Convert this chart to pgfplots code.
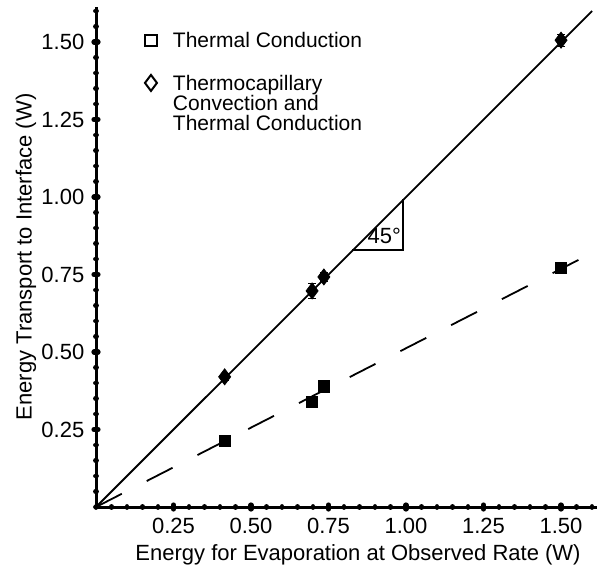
\documentclass[border=0pt]{standalone}
\usepackage{fontspec}
\setmainfont{Liberation Sans}
\usepackage{pgfplots}
\pgfplotsset{compat=1.18}
\begin{document}
\fontsize{11}{13}\selectfont
\begin{tikzpicture}
\useasboundingbox (-48pt,-30pt) rectangle (250.5pt,253.5pt);
\begin{axis}[
  scale only axis,
  width=250.5pt, height=250pt,
  xmin=0, xmax=1.616, ymin=0, ymax=1.613,
  axis x line=bottom, axis y line=left,
  axis line style={-, line width=1.5pt},
  xtick={0.25,0.5,...,1.5}, ytick={0.25,0.5,...,1.5},
  minor xtick={0,0.05,...,1.61}, minor ytick={0,0.05,...,1.61},
  tick align=center,
  major tick length=2pt, minor tick length=0.8pt,
  major tick style={line width=2.6pt, line cap=round, black},
  minor tick style={line width=2.1pt, line cap=round, black},
  /pgf/number format/assume math mode=true,
  /pgf/number format/.cd, fixed, fixed zerofill, precision=2, /pgfplots/.cd,
  ticklabel style={font=\fontsize{11}{13}\selectfont},
  xticklabel style={yshift=-0.5pt},
  yticklabel style={xshift=-1pt},
  xlabel={Energy for Evaporation at Observed Rate (W)},
  ylabel={Energy Transport to Interface (W)},
  label style={font=\fontsize{11}{13}\selectfont},
  xlabel style={at={(axis description cs:0.523,-0.096)}, anchor=center},
  ylabel style={at={(axis description cs:-0.14,0.5)}, anchor=center},
  legend style={draw=none, fill=none, at={(axis description cs:0.085,0.966)}, anchor=north west,
    cells={anchor=base west}, row sep=8pt, font=\fontsize{10.5}{10}\selectfont},
  legend image post style={yshift=3.6pt, mark options={fill=white, line width=1pt}},
  clip=false,
]
\addplot[black, line width=0.9pt, forget plot] coordinates {(0,0) (1.60,1.60)};
\addplot[black, line width=0.9pt, dash pattern=on 14.5pt off 14pt, forget plot] coordinates {(0,0) (1.556,0.797)};
\addplot[only marks, mark=square*, mark size=2.8pt, mark options={fill=black, solid},
  error bars/.cd, y dir=both, y explicit, error bar style={line width=0.8pt}, error mark options={rotate=90, mark size=2pt}]
  coordinates {(0.415,0.213) +- (0,0.01) (0.697,0.339) +- (0,0.01) (0.735,0.389) +- (0,0.01) (1.50,0.771) +- (0,0.01)};
\addlegendentry{\hspace{6pt}Thermal Conduction}
\addplot[only marks, mark=diamond*, mark size=4pt, mark options={fill=black, solid},
  error bars/.cd, y dir=both, y explicit, error bar style={line width=0.8pt}, error mark options={rotate=90, mark size=2pt}]
  coordinates {(0.415,0.42) +- (0,0.012) (0.697,0.697) +- (0,0.025) (0.735,0.742) +- (0,0.015) (1.50,1.506) +- (0,0.02)};
\addlegendentry{\hspace{6pt}\begin{tabular}[t]{@{}l@{}}Thermocapillary\\[-0.5pt]Convection and\\[-0.5pt]Thermal Conduction\end{tabular}}
\draw[black, line width=0.9pt] (axis cs:0.826,0.829) -- (axis cs:0.99,0.829) -- (axis cs:0.99,0.994);
\node[font=\fontsize{11}{13}\selectfont] at (axis cs:0.93,0.875) {45\textdegree};
\end{axis}
\end{tikzpicture}
\end{document}
